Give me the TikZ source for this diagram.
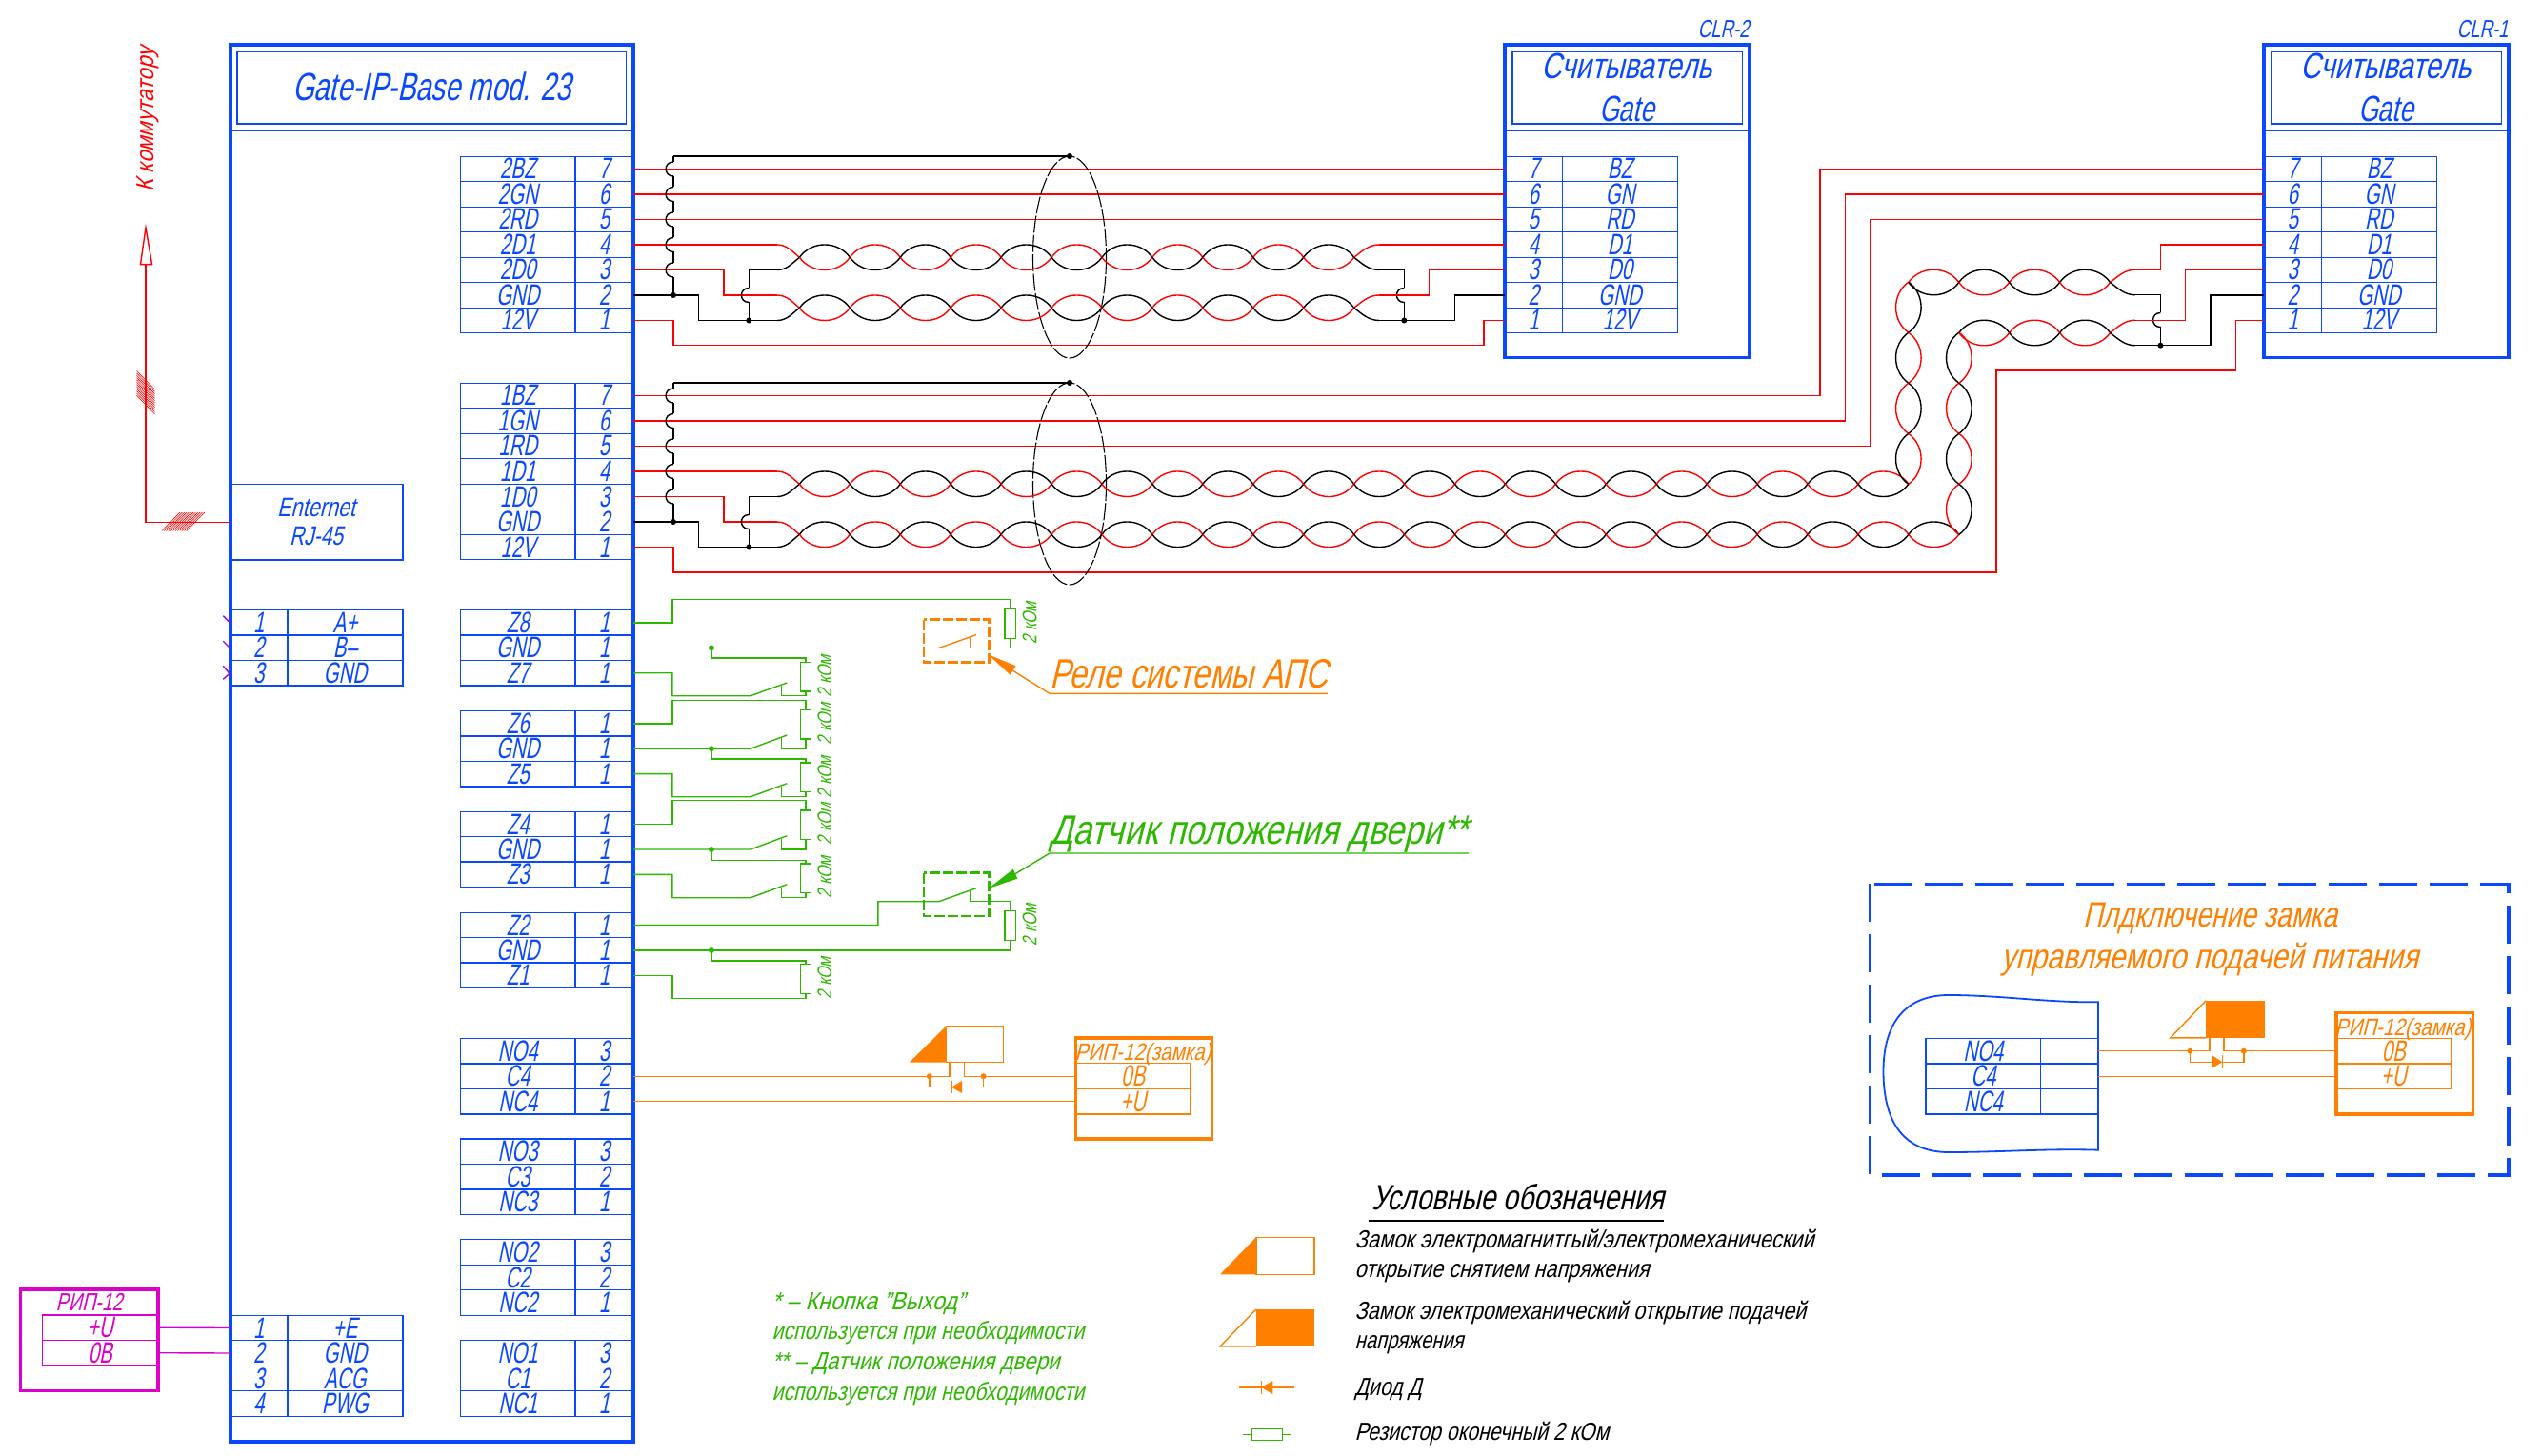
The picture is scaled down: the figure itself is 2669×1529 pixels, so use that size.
\documentclass[tikz,border=0pt]{standalone}
\usepackage{fontspec}
\usepackage{graphicx}
\setmainfont[FakeSlant=0.2,FakeStretch=0.66]{Liberation Sans}
\definecolor{bl}{HTML}{0A48FF}
\definecolor{wr}{HTML}{FF0000}
\definecolor{wk}{HTML}{000000}
\definecolor{gn}{HTML}{2DB800}
\definecolor{orn}{HTML}{FF8000}
\definecolor{mg}{HTML}{DC00C8}
\definecolor{vi}{HTML}{9A00F0}
\newsavebox\fitbox
\newcommand\FitW[2]{\sbox\fitbox{#2}\pgfmathsetmacro\fitr{#1*0.5/\wd\fitbox}\scalebox{\fitr}[1]{\usebox\fitbox}}
\tikzset{
  fs/.style={font=\fontsize{#1}{#1}\selectfont},
  txt/.style={inner sep=0pt,outer sep=0pt,anchor=base},
  txw/.style={inner sep=0pt,outer sep=0pt,anchor=base west},
  cellbox/.style={inner sep=0pt,outer sep=0pt,line width=.7pt,fs=15.5,text height=11pt,text depth=0.5pt},
  thickbox/.style={inner sep=0pt,outer sep=0pt,line width=1.6pt},
  thinbox/.style={inner sep=0pt,outer sep=0pt,line width=.7pt},
  wire/.style={line width=.7pt,line join=miter},
  wred/.style={wire,draw=wr},
  wblk/.style={wire,draw=wk},
  wgrn/.style={wire,draw=gn},
  worn/.style={wire,draw=orn},
  wmag/.style={wire,draw=mg},
  dashbox/.style={line width=1.3pt,dash pattern=on 5.5pt off 1.5pt},
  shield/.style={line width=.55pt,draw=wk,dash pattern=on 9pt off 1.2pt},
}
\newcommand\Cell[6]{\node[cellbox,draw=#6,text=#6,minimum width={((#3)-(#2))*0.5pt},minimum height=13.25pt] (#1) at ({((#2)+(#3))/2},#4) {#5};}
\newcommand\RowR[4]{\Cell{#1-a}{483.5}{604}{#2}{#3}{bl}\Cell{#1-b}{604}{665}{#2}{#4}{bl}}
\newcommand\RowL[4]{\Cell{#1-a}{241.5}{302}{#2}{#3}{bl}\Cell{#1-b}{302}{422.8}{#2}{#4}{bl}}
\newcommand\RowC[5]{\Cell{#1-a}{#2}{#2+60.5}{#3}{#4}{bl}\Cell{#1-b}{#2+60.5}{#2+181.3}{#3}{#5}{bl}}
\newcommand\BoxN[7]{\node[#6,draw=#7,minimum width={(#4-#2)*0.5pt},minimum height={(#5-#3)*0.5pt}] (#1) at ({(#2+#4)/2},{(#3+#5)/2}) {};}
\newcommand\DotAt[3]{\fill[#3] (#1,#2) circle[radius=1.5pt];}
% horizontal twisted pair: x0, ymid, number of lobes, parity (1: black on top in lobe 1)
\newcommand\HTwist[4]{\foreach \k in {1,...,#3}{%
  \pgfmathsetmacro\xa{#1+(\k-1)*52.93}\pgfmathsetmacro\xc{\xa+.24*52.93}\pgfmathsetmacro\xd{\xa+.76*52.93}\pgfmathsetmacro\xb{\xa+52.93}%
  \pgfmathsetmacro\yu{#2-17.7}\pgfmathsetmacro\yl{#2+17.7}%
  \pgfmathtruncatemacro\odd{mod(\k+#4+1,2)}%
  \ifnum\odd=1 \def\ct{wk}\def\cb{wr}\else\def\ct{wr}\def\cb{wk}\fi
  \draw[wire,draw=\ct] (\xa,#2) .. controls (\xc,\yu) and (\xd,\yu) .. (\xb,#2);
  \draw[wire,draw=\cb] (\xa,#2) .. controls (\xc,\yl) and (\xd,\yl) .. (\xb,#2);}}
% vertical twisted pair: x, ytop, number of lobes, parity (1: black on the left in lobe 1)
\newcommand\VTwist[4]{\foreach \k in {1,...,#3}{%
  \pgfmathsetmacro\ya{#2+(\k-1)*53.05}\pgfmathsetmacro\yc{\ya+.24*53.05}\pgfmathsetmacro\yd{\ya+.76*53.05}\pgfmathsetmacro\yb{\ya+53.05}%
  \pgfmathsetmacro\xu{#1-17.7}\pgfmathsetmacro\xl{#1+17.7}%
  \pgfmathtruncatemacro\odd{mod(\k+#4+1,2)}%
  \ifnum\odd=1 \def\ct{wk}\def\cb{wr}\else\def\ct{wr}\def\cb{wk}\fi
  \draw[wire,draw=\ct] (#1,\ya) .. controls (\xu,\yc) and (\xu,\yd) .. (#1,\yb);
  \draw[wire,draw=\cb] (#1,\ya) .. controls (\xl,\yc) and (\xl,\yd) .. (#1,\yb);}}
\newcommand\JumpV[2]{\draw[wblk] (#1,{#2-7.5}) .. controls ({#1-10.5},{#2-7.5}) and ({#1-10.5},{#2+7.5}) .. (#1,{#2+7.5});}
\newcommand\PairStart[1]{%
  \draw[wred] (816,{#1-13.25}) .. controls (826,{#1-13.25}) and (832,{#1-6}) .. (839.4,#1);
  \draw[wblk] (816,{#1+13.25}) .. controls (826,{#1+13.25}) and (832,{#1+6}) .. (839.4,#1);}
\newcommand\PairEnd[3]{%
  \draw[wred] (#1,#2) .. controls ({#1+8},{#2-6}) and ({#1+15},{#2-13.25}) .. (#3,{#2-13.25});
  \draw[wblk] (#1,#2) .. controls ({#1+8},{#2+6}) and ({#1+15},{#2+13.25}) .. (#3,{#2+13.25});}
\newcommand\ShieldV[1]{%
  \draw[wblk] (707,{#1-13.5}) -- (707,{#1-7.5});
  \foreach \i in {0,...,4}{\pgfmathsetmacro\yj{#1+\i*26.5}\JumpV{707}{\yj}\draw[wblk] (707,{\yj+7.5}) -- (707,{\yj+19});}
  \draw[wblk] (707,{#1+125}) -- (707,{#1+132.5});}
\newcommand\ResV[3]{\draw[wgrn,fill=white] ({#1-5.7},#2) rectangle ({#1+5.7},#3);}
\newcommand\KOm[3]{\node[txt,fs=10.5,text=gn,rotate=90] (#1) at (#2,#3) {\FitW{44}{2 кОм}};}
\begin{document}
\begin{tikzpicture}[x=0.5pt,y=-0.5pt]
\path[use as bounding box,fill=white] (0,0) rectangle (2669,1529);
% ---- main controller
\BoxN{main}{242}{47}{665}{1514}{thickbox}{bl}
\BoxN{maintitle}{249}{54.6}{657.3}{130}{thinbox}{bl}
\draw[bl,line width=.8pt] (main.west |- 0,137.6) -- (main.east |- 0,137.6);
\node[txt,fs=20.5,text=bl] (mainname) at (453.5,106) {\FitW{293}{Gate-IP-Base mod. 23}};
% reader boxes
\BoxN{clrb}{1580}{47}{1837}{375.6}{thickbox}{bl}
\BoxN{clrbt}{1587.8}{54.6}{1829.5}{130}{thinbox}{bl}
\draw[bl,line width=.8pt] (clrb.west |- 0,137.6) -- (clrb.east |- 0,137.6);
\node[txt,fs=19,text=bl] (clrbn1) at (1708,83) {\FitW{179}{Считыватель}};
\node[txt,fs=19,text=bl] (clrbn2) at (1708,127.3) {\FitW{58}{Gate}};
\node[inner sep=0pt,anchor=base east,fs=13,text=bl] (clrbl) at (1837,39.5) {\FitW{54}{CLR-2}};
\BoxN{clra}{2377}{47}{2634}{375.6}{thickbox}{bl}
\BoxN{clrat}{2384.8}{54.6}{2626.5}{130}{thinbox}{bl}
\draw[bl,line width=.8pt] (clra.west |- 0,137.6) -- (clra.east |- 0,137.6);
\node[txt,fs=19,text=bl] (clran1) at (2505,83) {\FitW{179}{Считыватель}};
\node[txt,fs=19,text=bl] (clran2) at (2505,127.3) {\FitW{58}{Gate}};
\node[inner sep=0pt,anchor=base east,fs=13,text=bl] (clral) at (2634,39.5) {\FitW{54}{CLR-1}};
% ---- terminal tables
\foreach \n/\y/\l/\m in {a7/177.5/2BZ/7,a6/204/2GN/6,a5/230.5/2RD/5,a4/257/2D1/4,a3/283.5/2D0/3,a2/310/GND/2,a1/336.5/12V/1,
  b7/415.5/1BZ/7,b6/442/1GN/6,b5/468.5/1RD/5,b4/495/1D1/4,b3/521.5/1D0/3,b2/548/GND/2,b1/574.5/12V/1,
  z8/654/Z8/1,zg4/680.4/GND/1,z7/706.7/Z7/1,z6/760/Z6/1,zg3/786.2/GND/1,z5/812.6/Z5/1,
  z4/865.5/Z4/1,zg2/892/GND/1,z3/918.4/Z3/1,z2/971.5/Z2/1,zg1/998/GND/1,z1/1024.2/Z1/1,
  n43/1103.7/NO4/3,n42/1130.2/C4/2,n41/1156.7/NC4/1,n33/1209.2/NO3/3,n32/1235.7/C3/2,n31/1262.2/NC3/1,
  n23/1315/NO2/3,n22/1341.5/C2/2,n21/1368/NC2/1,n13/1421/NO1/3,n12/1447.5/C1/2,n11/1474/NC1/1}
  {\RowR{\n}{\y}{\l}{\m}}
\foreach \n/\y/\l/\m in {l1/654/1/A+,l2/680.4/2/B–,l3/706.7/3/GND,p1/1394.5/1/+E,p2/1421/2/GND,p3/1447.5/3/ACG,p4/1474/4/PWG}
  {\RowL{\n}{\y}{\l}{\m}}
\foreach \n/\y/\l/\m in {c7/177.5/7/BZ,c6/204/6/GN,c5/230.5/5/RD,c4/257/4/D1,c3/283.5/3/D0,c2/310/2/GND,c1/336.5/1/12V}
  {\RowC{\n}{1580}{\y}{\l}{\m}}
\foreach \n/\y/\l/\m in {d7/177.5/7/BZ,d6/204/6/GN,d5/230.5/5/RD,d4/257/4/D1,d3/283.5/3/D0,d2/310/2/GND,d1/336.5/1/12V}
  {\RowC{\n}{2377}{\y}{\l}{\m}}
% violet ticks
\draw[vi,line width=.7pt] (234.3,646.7) -- (241,653.3) (234.3,673.3) -- (241,680) (234.3,699.3) -- (241,707.3) -- (234.3,713.3);
% ---- Ethernet
\node[thinbox,draw=bl,minimum width=90.5pt,minimum height=39.75pt] (eth) at (332.5,548.2) {};
\node[txt,fs=14,text=bl] (ethn1) at (332,542.5) {\FitW{82}{Enternet}};
\node[txt,fs=14,text=bl] (ethn2) at (332,572.6) {\FitW{56}{RJ-45}};
\coordinate (upend) at (153,277.6);
\draw[wred] (eth.west) -- (153,548.2) -- (upend);
\draw[wred,fill=white] (153,239) -- (159.6,277.6) -- (147.5,277.6) -- cycle;
\foreach \i in {0,...,11}{\draw[wr,line width=.3pt] ({170+\i*2.35},557.5) -- ({189+\i*2.35},538);
  \draw[wr,line width=.3pt] (143.5,{389.5+\i*2.35}) -- (162.5,{409+\i*2.35});}
\node[txt,fs=13,text=wr,rotate=90] (kkom) at (161,125.3) {\FitW{152}{К коммутатору}};
% ---- first cable
\foreach \n in {7,6,5}{\draw[wred] (a\n-b.east) -- (c\n-a.west);}
\draw[wred] (a4-b.east) -- (816,257);
\draw[wred] (a3-b.east) -- (760,283.5) -- (760,310) -- (816,310);
\draw[wblk] (a2-b.east) -- (733.3,310) -- (733.3,336.5) -- (816,336.5);
\draw[wblk] (786.3,336.5) -- (786.3,317.5);
\JumpV{786.3}{310}
\draw[wblk] (786.3,302.5) -- (786.3,283.5) -- (816,283.5);
\DotAt{786.3}{336.5}{wk}
\draw[wred] (a1-b.east) -- (707,336.5) -- (707,362.7) -- (1558,362.7) -- (1558,336.5) -- (c1-a.west);
\ShieldV{177.5}
\DotAt{707}{310}{wk}
\draw[wblk] (707,164) -- (1123,164);
\DotAt{1123}{164}{wk}
\draw[shield] (1123,270) ellipse[x radius=38.5,y radius=106];
\PairStart{270.25}
\PairStart{323.25}
\HTwist{839.4}{270.25}{11}{1}
\HTwist{839.4}{323.25}{11}{1}
\PairEnd{1421.6}{270.25}{1448}
\PairEnd{1421.6}{323.25}{1448}
\draw[wred] (1448,257) -- (c4-a.west);
\draw[wblk] (1448,283.5) -- (1474.3,283.5) -- (1474.3,302.5);
\JumpV{1474.3}{310}
\draw[wblk] (1474.3,317.5) -- (1474.3,336.5);
\draw[wred] (1448,310) -- (1500.7,310) -- (1500.7,283.5) -- (c3-a.west);
\draw[wblk] (1448,336.5) -- (1527.2,336.5) -- (1527.2,310) -- (c2-a.west);
\DotAt{1474.3}{336.5}{wk}
% ---- second cable
\draw[wred] (b7-b.east) -- (1910.9,415.5) |- (d7-a.west);
\draw[wred] (b6-b.east) -- (1937.5,442) |- (d6-a.west);
\draw[wred] (b5-b.east) -- (1964,468.5) |- (d5-a.west);
\draw[wred] (b4-b.east) -- (816,495);
\draw[wred] (b3-b.east) -- (760,521.5) -- (760,548) -- (816,548);
\draw[wblk] (b2-b.east) -- (733.3,548) -- (733.3,574.5) -- (816,574.5);
\draw[wblk] (786.3,574.5) -- (786.3,555.5);
\JumpV{786.3}{548}
\draw[wblk] (786.3,540.5) -- (786.3,521.5) -- (816,521.5);
\DotAt{786.3}{574.5}{wk}
\draw[wred] (b1-b.east) -- (707,574.5) -- (707,601) -- (2096,601) -- (2096,389) -- (2347.7,389) -- (2347.7,336.5) -- (d1-a.west);
\ShieldV{415.5}
\DotAt{707}{548}{wk}
\draw[wblk] (707,402) -- (1123,402);
\DotAt{1123}{402}{wk}
\draw[shield] (1123,508) ellipse[x radius=38.5,y radius=106];
\PairStart{508.25}
\PairStart{561.25}
\HTwist{839.4}{508.25}{22}{1}
\HTwist{839.4}{561.25}{23}{1}
\VTwist{2003.8}{296.2}{4}{0}
\VTwist{2056.8}{349.2}{4}{1}
\HTwist{2003.8}{296.5}{4}{0}
\HTwist{2056.8}{349.5}{3}{1}
\PairEnd{2215.5}{296.5}{2241.8}
\PairEnd{2215.5}{349.5}{2241.8}
\draw[wred] (2241.8,283.25) -- (2268.4,283.25) -- (2268.4,257) -- (d4-a.west);
\draw[wblk] (2241.8,309.75) -- (2268.4,309.75) -- (2268.4,328.5);
\JumpV{2268.4}{336}
\draw[wblk] (2268.4,343.5) -- (2268.4,362.75);
\draw[wred] (2241.8,336.25) -- (2294.5,336.25) -- (2294.5,283.5) -- (d3-a.west);
\draw[wblk] (2241.8,362.75) -- (2321,362.75) -- (2321,310) -- (d2-a.west);
\DotAt{2268.4}{362.75}{wk}
% ---- zone wiring
\draw[wgrn] (z8-b.east) -- (705.8,654) -- (705.8,629.3) -- (1060.7,629.3) -- (1060.7,680.4) -- (1038.4,680.4);
\draw[worn] (1038.4,680.4) -- (1018.3,680.4) -- (1018.3,667.5);
\draw[worn] (985.7,680.4) -- (1025,666.7);
\draw[worn] (970,680.4) -- (985.7,680.4);
\draw[wgrn] (zg4-b.east) -- (970,680.4);
\DotAt{746.9}{680.4}{gn}
\draw[wgrn] (746.9,680.4) -- (746.9,691) -- (846,691) -- (846,730.7) -- (820.5,730.7) -- (820.5,720);
\draw[wgrn] (z7-b.east) -- (705.8,706.7) -- (705.8,730.7) -- (788,730.7) -- (826.3,717);
\draw[wgrn] (z6-b.east) -- (705.8,760) -- (705.8,735.3) -- (846,735.3) -- (846,786.2) -- (820.5,786.2) -- (820.5,775);
\draw[wgrn] (zg3-b.east) -- (788,786.2) -- (826.3,772);
\DotAt{746.9}{786.2}{gn}
\draw[wgrn] (746.9,786.2) -- (746.9,797) -- (846,797) -- (846,836.7) -- (820.5,836.7) -- (820.5,826);
\draw[wgrn] (z5-b.east) -- (705.8,812.6) -- (705.8,836.7) -- (788,836.7) -- (826.3,822.7);
\draw[wgrn] (z4-b.east) -- (705.8,865.5) -- (705.8,840.7) -- (846,840.7) -- (846,892) -- (820.5,892) -- (820.5,881);
\draw[wgrn] (zg2-b.east) -- (788,892) -- (826.3,877.7);
\DotAt{746.9}{892}{gn}
\draw[wgrn] (746.9,892) -- (746.9,903.3) -- (846,903.3) -- (846,942.7) -- (820.5,942.7) -- (820.5,931.7);
\draw[wgrn] (z3-b.east) -- (705.8,918.4) -- (705.8,942.7) -- (788,942.7) -- (826.3,928.7);
\draw[wgrn] (z2-b.east) -- (921.9,971.5) -- (921.9,946.7) -- (985.7,946.7) -- (1025,932.7);
\draw[wgrn] (1018.3,935) -- (1018.3,946.7) -- (1060.7,946.7) -- (1060.7,998) -- (zg1-b.east);
\DotAt{746.9}{998}{gn}
\draw[wgrn] (746.9,998) -- (746.9,1009) -- (846,1009) -- (846,1048.3) -- (705.8,1048.3) -- (705.8,1024.2) -- (z1-b.east);
\ResV{1060.7}{639.3}{670.3}
\ResV{846}{695.3}{726}
\ResV{846}{745.3}{776}
\ResV{846}{801}{831.7}
\ResV{846}{851}{881.7}
\ResV{846}{907}{937.7}
\ResV{1060.7}{956.7}{987.3}
\ResV{846}{1012.7}{1043.3}
\KOm{ka}{1088.4}{654}
\KOm{kb}{873.2}{710}
\KOm{kc}{873.2}{760}
\KOm{kd}{873.2}{816}
\KOm{ke}{873.2}{865}
\KOm{kf}{873.2}{921}
\KOm{kg}{1088.4}{971}
\KOm{kh}{873.2}{1027}
\draw[orn,dashbox] (970,650.7) rectangle (1038.4,695.7);
\draw[gn,dashbox] (970,916.7) rectangle (1038.4,962);
% relay and sensor labels
\fill[orn] (1037.5,687.3) -- (1066.6,699.3) -- (1060.7,708.7) -- cycle;
\draw[worn] (1063,704) -- (1102,728.3) -- (1394,728.3);
\node[txw,fs=21.5,text=orn] (rele) at (1102,722.7) {\FitW{292}{Реле системы АПС}};
\fill[gn] (1038.4,932.7) -- (1063.8,912.7) -- (1068.3,922.7) -- cycle;
\draw[wgrn] (1066,917.7) -- (1102,896) -- (1542,896);
\node[txw,fs=21.5,text=gn] (datch) at (1102.7,886.7) {\FitW{439}{Датчик положения двери**}};
% ---- lock on relay 4
\draw[worn] (n42-b.east) -- (975.8,1130.2) -- (996.8,1130.2) -- (996.8,1115.7);
\draw[worn] (1012.2,1115.7) -- (1012.2,1130.2) -- (1129.4,1130.2);
\draw[worn] (n41-b.east) -- (1129.4,1156.7);
\DotAt{975.8}{1130.2}{orn}
\DotAt{1032.6}{1130.2}{orn}
\draw[worn] (975.8,1130.2) -- (975.8,1141.7) -- (1032.6,1141.7) -- (1032.6,1130.2);
\fill[orn] (999,1141.7) -- (1010,1135) -- (1010,1148) -- cycle;
\draw[orn,line width=.8pt] (999,1135) -- (999,1148);
\fill[orn] (993.3,1077.7) -- (954.7,1115.7) -- (993.3,1115.7) -- cycle;
\draw[worn] (993.3,1077.7) rectangle (1053.6,1115.7);
\BoxN{ripl}{1129.4}{1090}{1272.5}{1196}{thickbox}{orn}
\node[txt,fs=12.5,text=orn] (riplt) at (1200,1113.3) {\FitW{143}{РИП-12(замка)}};
\Cell{ripl0}{1129.4}{1250}{1130}{0В}{orn}
\Cell{riplu}{1129.4}{1250}{1156.7}{+U}{orn}
% ---- mains supply
\BoxN{rip}{21.4}{1354}{166}{1460.7}{thickbox}{mg}
\node[txt,fs=13,text=mg] (ript) at (93.7,1376.7) {\FitW{70}{РИП-12}};
\Cell{ripu}{44.6}{166}{1394.2}{+U}{mg}
\Cell{rip0}{44.6}{166}{1420.7}{0В}{mg}
\draw[wmag] (ripu.east) -- (p1-a.west);
\draw[wmag] (rip0.east) -- (p2-a.west);
% ---- green notes
\node[txw,fs=13,text=gn] (nt1) at (810.5,1375) {\FitW{202}{* – Кнопка "Выход"}};
\node[txw,fs=13,text=gn] (nt2) at (810.5,1406.7) {\FitW{328}{используется при необходимости}};
\node[txw,fs=13,text=gn] (nt3) at (810.5,1438) {\FitW{302}{** – Датчик положения двери}};
\node[txw,fs=13,text=gn] (nt4) at (810.5,1470) {\FitW{328}{используется при необходимости}};
% ---- legend
\node[txw,fs=18.5,text=wk] (lgt) at (1440,1270) {\FitW{307}{Условные обозначения}};
\draw[wk,line width=1.2pt] (1436.7,1281.7) -- (1746.7,1281.7);
\fill[orn] (1318.8,1299.3) -- (1281,1338.3) -- (1318.8,1338.3) -- cycle;
\draw[worn] (1318.8,1299.3) rectangle (1379.8,1338.3);
\draw[worn] (1318.8,1375) -- (1281,1414) -- (1318.8,1414);
\fill[orn] (1318.8,1375) rectangle (1379.8,1414);
\draw[worn] (1301.3,1457) -- (1358.8,1457);
\fill[orn] (1324.4,1457) -- (1336.3,1450) -- (1336.3,1464) -- cycle;
\draw[orn,line width=.8pt] (1324.4,1450) -- (1324.4,1464);
\draw[wgrn] (1304.8,1506.5) -- (1356,1506.5);
\draw[wgrn,fill=white] (1314.6,1500.7) rectangle (1346.2,1512.3);
\node[txw,fs=13,text=wk] (lg1) at (1422.6,1310) {\FitW{482}{Замок электромагнитгый/электромеханический}};
\node[txw,fs=13,text=wk] (lg2) at (1422.6,1341.7) {\FitW{309}{открытие снятием напряжения}};
\node[txw,fs=13,text=wk] (lg3) at (1422.6,1385.7) {\FitW{473.5}{Замок электромеханический открытие подачей}};
\node[txw,fs=13,text=wk] (lg4) at (1422.6,1416.7) {\FitW{114}{напряжения}};
\node[txw,fs=13,text=wk] (lg5) at (1422.6,1465.7) {\FitW{70}{Диод Д}};
\node[txw,fs=13,text=wk] (lg6) at (1422.6,1512.7) {\FitW{266.6}{Резистор оконечный 2 кОм}};
% ---- panel on the right
\draw[bl,line width=1.6pt,dash pattern=on 20pt off 6.5pt] (1963.8,928.3) rectangle (2634,1234);
\node[txt,fs=18.5,text=orn] (pt1) at (2320.5,973.3) {\FitW{267}{Плдключение замка}};
\node[txt,fs=18.5,text=orn] (pt2) at (2320,1017.3) {\FitW{438}{управляемого подачей питания}};
\draw[bl,line width=.9pt] (2203,1052.3) .. controls (2150,1053) and (2100,1045) .. (2046,1045) .. controls (2000,1045) and (1977.5,1075) .. (1977.5,1125) .. controls (1977.5,1180) and (2000,1210) .. (2046,1210) .. controls (2100,1210) and (2150,1206) .. (2203,1207.7) -- cycle;
\Cell{pn-a}{2022}{2142.6}{1103.7}{NO4}{bl}
\Cell{pn-b}{2142.6}{2203}{1103.7}{}{bl}
\Cell{pc-a}{2022}{2142.6}{1130.2}{C4}{bl}
\Cell{pc-b}{2142.6}{2203}{1130.2}{}{bl}
\Cell{pd-a}{2022}{2142.6}{1156.7}{NC4}{bl}
\Cell{pd-b}{2142.6}{2203}{1156.7}{}{bl}
\BoxN{ripr}{2453}{1063.3}{2596.5}{1170}{thickbox}{orn}
\node[txt,fs=12.5,text=orn] (riprt) at (2523,1087.3) {\FitW{143}{РИП-12(замка)}};
\Cell{ripr0}{2453}{2573.6}{1103.7}{0В}{orn}
\Cell{ripru}{2453}{2573.6}{1130.2}{+U}{orn}
\draw[worn] (pn-b.east) -- (2320,1103.7) -- (2320,1090);
\draw[worn] (2335,1090) -- (2335,1103.7) -- (ripr0.west);
\draw[worn] (pc-b.east) -- (ripru.west);
\DotAt{2299.4}{1103.7}{orn}
\DotAt{2355.8}{1103.7}{orn}
\draw[worn] (2299.4,1103.7) -- (2299.4,1115.3) -- (2355.8,1115.3) -- (2355.8,1103.7);
\fill[orn] (2333.3,1115.3) -- (2322.3,1108) -- (2322.3,1121.7) -- cycle;
\draw[orn,line width=.8pt] (2333.3,1108) -- (2333.3,1121.7);
\draw[worn] (2315.9,1051) -- (2278.8,1089.8) -- (2315.9,1089.8);
\fill[orn] (2315.9,1051) rectangle (2377.8,1090);
\end{tikzpicture}
\end{document}
